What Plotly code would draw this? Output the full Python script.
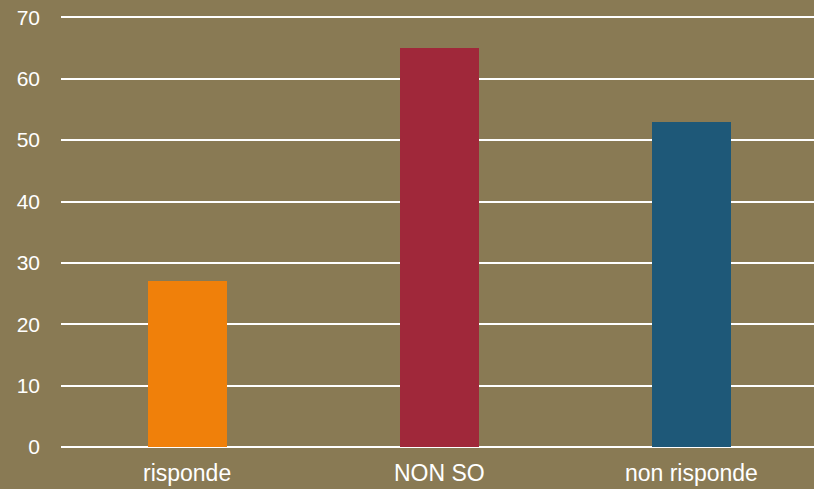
import plotly.graph_objects as go

categories = ["risponde", "NON SO", "non risponde"]
values = [27, 65, 53]
bar_colors = ["#F0800A", "#A0283A", "#1E5878"]
y_ticks = [0, 10, 20, 30, 40, 50, 60, 70]

bg = "#897A54"

fig = go.Figure(go.Bar(
    x=list(range(len(categories))),
    y=values,
    marker=dict(color=bar_colors, line=dict(width=0)),
    width=0.313,
    hoverinfo="skip",
))

fig.update_layout(
    width=814, height=489,
    paper_bgcolor=bg, plot_bgcolor=bg,
    margin=dict(l=61, r=0, t=14, b=42),
    showlegend=False,
    font=dict(family="Liberation Sans, Arial, sans-serif", size=21, color="#FFFFFF"),
    bargap=0,
)
fig.update_xaxes(
    range=[-0.5, 2.5 - 3.5 / 252],
    tickmode="array",
    tickvals=list(range(len(categories))),
    ticktext=categories,
    showgrid=False, zeroline=False, showline=False,
    ticks="", ticklabelstandoff=10,
    tickfont=dict(size=23),
)
fig.update_yaxes(
    range=[0, 70.55],
    tickmode="array",
    tickvals=y_ticks,
    showgrid=True, gridcolor="#FFFFFF", gridwidth=2,
    zeroline=True, zerolinecolor="#FFFFFF", zerolinewidth=2,
    showline=False, ticks="",
    ticklabelstandoff=20,
    tickfont=dict(size=21),
)

fig.write_html(
    "out.html",
    config={"displayModeBar": False},
    post_script="document.body.style.margin='0';document.body.style.overflow='hidden';document.body.style.background='%s';" % bg,
)
